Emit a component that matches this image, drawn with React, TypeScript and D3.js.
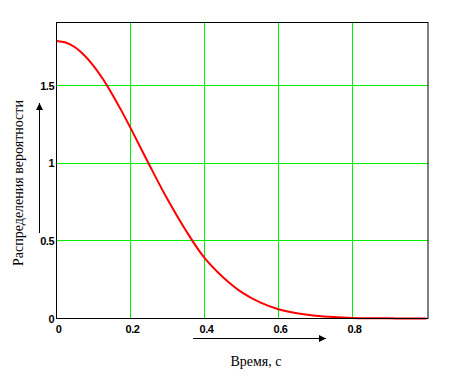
import React from "react";
import * as d3 from "d3";

const timeValues = [0, 0.025, 0.05, 0.075, 0.1, 0.125, 0.15, 0.175, 0.2, 0.25, 0.3, 0.35, 0.4, 0.45, 0.5, 0.55, 0.6, 0.65, 0.7, 0.75, 0.8, 0.85, 0.9, 0.95, 1.0];
const probValues = [1.787, 1.777, 1.746, 1.695, 1.627, 1.543, 1.446, 1.34, 1.227, 0.993, 0.767, 0.565, 0.39, 0.266, 0.17, 0.104, 0.06, 0.034, 0.018, 0.009, 0.004, 0.002, 0.001, 0.0, 0.0];
const xTicks = [0, 0.2, 0.4, 0.6, 0.8];
const xTickLabels = ["0", "0.2", "0.4", "0.6", "0.8"];
const yTicks = [0, 0.5, 1, 1.5];
const yTickLabels = ["0", "0.5", "1", "1.5"];
const xTitle = "Время, с";
const yTitle = "Распределения вероятности";

export default function App() {
  const left = 56.5, right = 428, top = 22.5, bottom = 318.5;
  const x = d3.scaleLinear().domain([0, 1.004]).range([left, right]);
  const y = d3.scaleLinear().domain([0, 1.9056]).range([bottom, top]);
  const snap = (v: number) => Math.round(v - 0.5) + 0.5;
  const data = timeValues.map((t, i) => [t, probValues[i]] as [number, number]);
  const line = d3.line<[number, number]>().x(d => x(d[0])).y(d => y(d[1])).curve(d3.curveCatmullRom.alpha(0.5));
  const green = "#00ee00";
  const tickFont = "'Liberation Sans', Arial, sans-serif";
  return (
    <svg width={453} height={377} style={{ position: "absolute", left: 0, top: 0, background: "#fff" }}>
      <defs>
        <marker id="ah" viewBox="0 0 10 10" refX="10" refY="5" markerWidth="13" markerHeight="7" markerUnits="userSpaceOnUse" orient="auto">
          <path d="M0,0 L10,5 L0,10 z" fill="#000" />
        </marker>
      </defs>
      {xTicks.filter(t => t > 0).map(t => (
        <line key={"vx" + t} x1={snap(x(t))} x2={snap(x(t))} y1={top} y2={bottom} stroke={green} strokeWidth={1} />
      ))}
      {yTicks.filter(t => t > 0).map(t => (
        <line key={"hy" + t} x1={left} x2={right} y1={snap(y(t))} y2={snap(y(t))} stroke={green} strokeWidth={1} />
      ))}
      <path d={line(data) || ""} fill="none" stroke="#ff0000" strokeWidth={2} />
      <rect x={left} y={top} width={right - left} height={bottom - top} fill="none" stroke="#000" strokeWidth={1} />
      {xTicks.map((t, i) => (
        <text key={"xl" + t} x={x(t) + 2} y={333} textAnchor="middle" fontFamily={tickFont} fontWeight="bold" fontSize={11} letterSpacing={-0.5} fill="#000">
          {xTickLabels[i]}
        </text>
      ))}
      {yTicks.map((t, i) => (
        <text key={"yl" + t} x={54} y={y(t) + 4} textAnchor="end" fontFamily={tickFont} fontWeight="bold" fontSize={11} letterSpacing={-0.5} fill="#000">
          {yTickLabels[i]}
        </text>
      ))}
      <line x1={193} y1={338.5} x2={326} y2={338.5} stroke="#000" strokeWidth={1} markerEnd="url(#ah)" />
      <line x1={39.5} y1={233} x2={39.5} y2={103} stroke="#000" strokeWidth={1} markerEnd="url(#ah)" />
      <text x={256} y={366} textAnchor="middle" fontFamily="'Liberation Serif', 'Times New Roman', serif" fontSize={14} fill="#000">
        {xTitle}
      </text>
      <text transform="translate(23,183) rotate(-90)" textAnchor="middle" fontFamily="'Liberation Serif', 'Times New Roman', serif" fontSize={14} fill="#000">
        {yTitle}
      </text>
    </svg>
  );
}
